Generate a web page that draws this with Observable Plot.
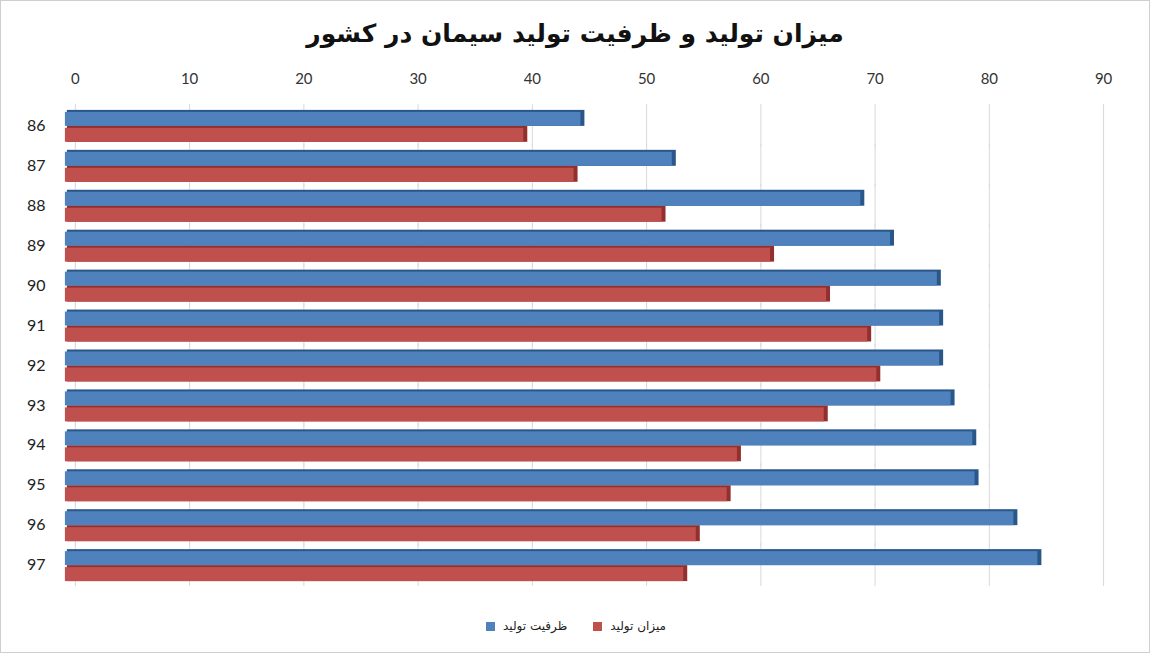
<!DOCTYPE html>
<html>
<head>
<meta charset="utf-8">
<script src="https://cdn.jsdelivr.net/npm/d3@7"></script>
<script src="https://cdn.jsdelivr.net/npm/@observablehq/plot@0.6"></script>
<style>
  html, body { margin: 0; padding: 0; background: #fff; }
  #frame { position: relative; width: 1148px; height: 651px; border: 1px solid #cfcfcf; overflow: hidden; }
  #title { height: 54px; line-height: 66px; text-align: center; font-family: "DejaVu Sans", sans-serif; font-weight: bold; font-size: 25px; color: #111; direction: rtl; }
  #chart svg { display: block; }
  #legend { display: flex; justify-content: center; align-items: center; gap: 26px; padding-top: 20px; font-family: "DejaVu Sans", sans-serif; font-size: 12px; color: #222; padding-left: 2px; }
  .item { display: flex; align-items: center; gap: 8px; }
  .sw { width: 9px; height: 9px; display: inline-block; }
</style>
</head>
<body>
<div id="frame">
  <div id="title"></div>
  <div id="chart"></div>
  <div id="legend"></div>
</div>
<script>
const titleText = "میزان تولید و ظرفیت تولید سیمان در کشور";
const years = ["86","87","88","89","90","91","92","93","94","95","96","97"];
const seriesNames = ["ظرفیت تولید", "میزان تولید"];
const capacity   = [44.6, 52.6, 69.1, 71.7, 75.8, 76.0, 76.0, 77.0, 78.9, 79.1, 82.5, 84.6];
const production = [39.6, 44.0, 51.7, 61.2, 66.1, 69.7, 70.5, 65.9, 58.3, 57.4, 54.7, 53.6];
const xTicks = [0, 10, 20, 30, 40, 50, 60, 70, 80, 90];
const fills = ["#4F81BD", "#C0504D"];
const edges = ["#2A5789", "#93302D"];

const rows = years.flatMap((yr, i) => [
  {year: yr, series: seriesNames[0], value: capacity[i]},
  {year: yr, series: seriesNames[1], value: production[i]}
]);

document.getElementById("title").textContent = titleText;

const chart = Plot.plot({
  width: 1150,
  height: 545,
  marginTop: 49,
  marginLeft: 74,
  marginRight: 46,
  marginBottom: 14,
  style: {fontFamily: "Lato, 'Open Sans', sans-serif", fontSize: "15px", color: "#333", background: "transparent"},
  x: {domain: [0, 90], axis: "top", ticks: xTicks, tickFormat: d => String(d), tickSize: 0, tickPadding: 25, label: null},
  fy: {domain: years, paddingInner: 0.175, paddingOuter: 0, axis: "left", tickSize: 0, tickPadding: 30, label: null},
  y: {domain: seriesNames, axis: null, padding: 0},
  marks: [
    Plot.ruleX(xTicks, {stroke: "#d9d9d9", strokeWidth: 1, insetTop: -5, insetBottom: -5}),
    Plot.barX(rows, {fy: "year", y: "series", x: "value", insetLeft: -8, fill: d => d.series === seriesNames[0] ? edges[0] : edges[1]}),
    Plot.barX(rows, {fy: "year", y: "series", x: "value", dx: -4, insetLeft: -6, insetTop: 2, fill: d => d.series === seriesNames[0] ? fills[0] : fills[1]})
  ]
});
chart.querySelectorAll("g[aria-label='fy-axis tick label'] text, g[aria-label='fy-axis'] text").forEach(t => { t.style.fontSize = "16px"; t.style.fill = "#222"; });
document.getElementById("chart").appendChild(chart);

const legend = document.getElementById("legend");
seriesNames.forEach((name, i) => {
  const item = document.createElement("div");
  item.className = "item";
  const sw = document.createElement("span");
  sw.className = "sw";
  sw.style.background = fills[i];
  const t = document.createElement("span");
  t.textContent = name;
  t.style.direction = "rtl";
  item.appendChild(sw);
  item.appendChild(t);
  legend.appendChild(item);
});
</script>
</body>
</html>
